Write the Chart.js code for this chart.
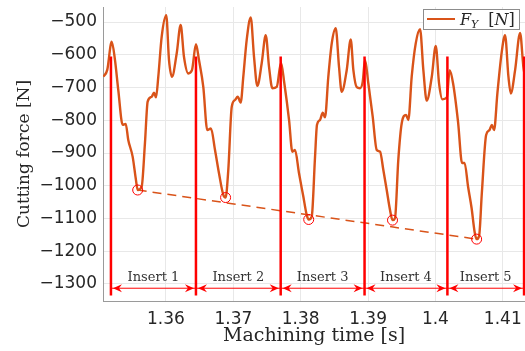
<!DOCTYPE html>
<html>
<head>
<meta charset="utf-8">
<script src="https://cdn.jsdelivr.net/npm/chart.js@4.4.1/dist/chart.umd.min.js"></script>
<style>
  html, body { margin: 0; padding: 0; background: #fff; }
  #chart { display: block; }
</style>
</head>
<body>
<canvas id="chart" width="525" height="351"></canvas>
<script>
// Cutting force F_Y over machining time
const timeS = [
  1.35069, 1.35128, 1.35194, 1.35243, 1.35292, 1.35357, 1.35402, 1.35440, 1.35505, 1.35554,
  1.35580, 1.35639, 1.35688, 1.35728, 1.35788, 1.35822, 1.35852, 1.35886, 1.35936, 1.36004,
  1.36045, 1.36089, 1.36159, 1.36218, 1.36267, 1.36331, 1.36386, 1.36445, 1.36490, 1.36554,
  1.36613, 1.36668, 1.36728, 1.36787, 1.36851, 1.36885, 1.36925, 1.36976, 1.37025, 1.37065,
  1.37109, 1.37148, 1.37198, 1.37258, 1.37307, 1.37356, 1.37421, 1.37481, 1.37530, 1.37579,
  1.37644, 1.37708, 1.37757, 1.37827, 1.37876, 1.37916, 1.37975, 1.38039, 1.38089, 1.38119,
  1.38164, 1.38213, 1.38242, 1.38287, 1.38327, 1.38361, 1.38410, 1.38461, 1.38520, 1.38569,
  1.38609, 1.38683, 1.38743, 1.38782, 1.38832, 1.38881, 1.38921, 1.38955, 1.39004, 1.39069,
  1.39129, 1.39178, 1.39227, 1.39277, 1.39326, 1.39363, 1.39400, 1.39449, 1.39500, 1.39564,
  1.39598, 1.39648, 1.39708, 1.39772, 1.39821, 1.39871, 1.39946, 1.40005, 1.40054, 1.40104,
  1.40169, 1.40212, 1.40262, 1.40336, 1.40396, 1.40433, 1.40485, 1.40537, 1.40582, 1.40612,
  1.40649, 1.40689, 1.40753, 1.40802, 1.40837, 1.40871, 1.40920, 1.40985, 1.41034, 1.41084,
  1.41119, 1.41183, 1.41257, 1.41306, 1.41331
];
const forceN = [
  -667, -646, -560, -616, -708, -814, -811, -860, -911, -982,
  -1013, -1003, -869, -743, -728, -716, -730, -667, -545, -479,
  -616, -667, -596, -509, -606, -657, -647, -568, -616, -698,
  -830, -825, -891, -962, -1028, -1036, -952, -759, -738, -728,
  -746, -667, -555, -486, -606, -695, -626, -540, -637, -702,
  -698, -624, -687, -799, -896, -891, -962, -1033, -1089, -1103,
  -1094, -911, -814, -799, -777, -791, -667, -565, -519, -637,
  -713, -647, -553, -647, -699, -702, -682, -616, -687, -789,
  -891, -896, -952, -1013, -1074, -1105, -1099, -921, -809, -784,
  -799, -667, -565, -522, -647, -740, -667, -573, -687, -736,
  -730, -647, -687, -805, -931, -930, -1003, -1068, -1141, -1163,
  -1153, -1023, -845, -830, -814, -830, -718, -591, -540, -667,
  -718, -647, -533, -637, -668
];

// minimum of each insert pass and the trend through them
const minTime = [1.35580, 1.36885, 1.38119, 1.39363, 1.40612];
const minForce = [-1013, -1036, -1103, -1105, -1163];
const trendTime = [1.3558, 1.4061];
const trendForce = [-1013, -1163];

// insert boundaries and labels
const boundaryTime = [1.35183, 1.36445, 1.37703, 1.38948, 1.40178, 1.41316];
const boundaryForce = [-605, -1335];
const insertLabels = ['Insert 1', 'Insert 2', 'Insert 3', 'Insert 4', 'Insert 5'];
const arrowForce = -1313;
const labelForce = -1282;

// axes
const xTicks = [1.36, 1.37, 1.38, 1.39, 1.40, 1.41];
const yTicks = [-1300, -1200, -1100, -1000, -900, -800, -700, -600, -500];
const xRange = [1.35065, 1.4133];
const yRange = [-1352, -454];

const ORANGE = '#d95319';
const RED = '#ff0000';
const SERIF = '"DejaVu Serif", serif';
const SANS = '"DejaVu Sans", sans-serif';

const datasets = [];

datasets.push({
  label: 'F_Y [N]',
  data: timeS.map((t, i) => ({ x: t, y: forceN[i] })),
  showLine: true,
  borderColor: ORANGE,
  borderWidth: 2.4,
  pointRadius: 0,
  cubicInterpolationMode: 'monotone',
  order: 3
});

datasets.push({
  label: 'trend',
  data: trendTime.map((t, i) => ({ x: t, y: trendForce[i] })),
  showLine: true,
  borderColor: ORANGE,
  borderWidth: 1.5,
  borderDash: [9, 6],
  pointRadius: 0,
  order: 4
});

datasets.push({
  label: 'minima',
  data: minTime.map((t, i) => ({ x: t, y: minForce[i] })),
  showLine: false,
  pointRadius: 5,
  pointBorderColor: RED,
  pointBackgroundColor: 'rgba(0,0,0,0)',
  pointBorderWidth: 1,
  order: 2
});

boundaryTime.forEach(t => {
  datasets.push({
    label: 'boundary',
    data: boundaryForce.map(f => ({ x: t, y: f })),
    showLine: true,
    borderColor: RED,
    borderWidth: 2.5,
    pointRadius: 0,
    order: 1
  });
});

insertLabels.forEach((name, i) => {
  datasets.push({
    label: name,
    isArrow: true,
    data: [
      { x: boundaryTime[i], y: arrowForce },
      { x: boundaryTime[i + 1], y: arrowForce }
    ],
    showLine: true,
    borderColor: RED,
    borderWidth: 1,
    pointRadius: 0,
    order: 1
  });
});

// arrow heads at both ends of each insert span
const arrowHeads = {
  id: 'arrowHeads',
  afterDatasetsDraw(chart) {
    const ctx = chart.ctx;
    ctx.save();
    ctx.fillStyle = RED;
    chart.data.datasets.forEach((ds, i) => {
      if (!ds.isArrow) return;
      const pts = chart.getDatasetMeta(i).data;
      const a = pts[0], b = pts[1];
      drawHead(ctx, a.x + 2, a.y, -1);
      drawHead(ctx, b.x - 2, b.y, 1);
    });
    ctx.restore();
  }
};

function drawHead(ctx, tx, ty, dir) {
  ctx.beginPath();
  ctx.moveTo(tx, ty);
  ctx.lineTo(tx - dir * 9, ty - 4);
  ctx.lineTo(tx - dir * 6, ty);
  ctx.lineTo(tx - dir * 9, ty + 4);
  ctx.closePath();
  ctx.fill();
}

// insert names centred over each span
const insertText = {
  id: 'insertText',
  afterDatasetsDraw(chart) {
    const { ctx, scales } = chart;
    ctx.save();
    ctx.font = '13px ' + SERIF;
    ctx.fillStyle = '#333';
    ctx.textAlign = 'center';
    ctx.textBaseline = 'middle';
    const y = scales.y.getPixelForValue(labelForce);
    insertLabels.forEach((name, i) => {
      const mid = (boundaryTime[i] + boundaryTime[i + 1]) / 2;
      ctx.fillText(name, scales.x.getPixelForValue(mid), y);
    });
    ctx.restore();
  }
};

// boxed legend with subscript label
const legendBox = {
  id: 'legendBox',
  afterDraw(chart) {
    const { ctx, chartArea } = chart;
    const w = 96, h = 20;
    const x = chartArea.right - w - 6;
    const y = chartArea.top + 2;
    ctx.save();
    ctx.fillStyle = '#fff';
    ctx.fillRect(x, y, w, h);
    ctx.strokeStyle = '#8c8c8c';
    ctx.lineWidth = 1;
    ctx.strokeRect(x + 0.5, y + 0.5, w, h);

    ctx.strokeStyle = ORANGE;
    ctx.lineWidth = 2;
    ctx.beginPath();
    ctx.moveTo(x + 4, y + h / 2);
    ctx.lineTo(x + 32, y + h / 2);
    ctx.stroke();

    ctx.fillStyle = '#262626';
    ctx.textBaseline = 'alphabetic';
    const base = y + 16;
    let cx = x + 37;
    ctx.font = 'italic 16px ' + SERIF;
    ctx.fillText('F', cx, base);
    cx += ctx.measureText('F').width;
    ctx.font = 'italic 11px ' + SERIF;
    ctx.fillText('Y', cx, base + 3);
    cx += ctx.measureText('Y').width + 10;
    ctx.font = '16px ' + SERIF;
    ctx.fillText('[', cx, base);
    cx += ctx.measureText('[').width;
    ctx.font = 'italic 16px ' + SERIF;
    ctx.fillText('N', cx, base);
    cx += ctx.measureText('N').width;
    ctx.font = '16px ' + SERIF;
    ctx.fillText(']', cx, base);
    ctx.restore();
  }
};

new Chart(document.getElementById('chart'), {
  type: 'scatter',
  data: { datasets },
  options: {
    responsive: false,
    animation: false,
    layout: {
      autoPadding: false,
      padding: { top: 7, right: 0, left: 0, bottom: 0 }
    },
    plugins: {
      legend: { display: false },
      tooltip: { enabled: false }
    },
    scales: {
      x: {
        type: 'linear',
        min: xRange[0],
        max: xRange[1],
        afterBuildTicks: scale => { scale.ticks = xTicks.map(v => ({ value: v })); },
        afterFit: scale => {
          scale.height = 50;
          scale.paddingLeft = 0;
          scale.paddingRight = 0;
        },
        ticks: {
          font: { family: SANS, size: 17 },
          color: '#262626',
          padding: 8,
          maxRotation: 0,
          callback: v => String(Math.round(v * 100) / 100)
        },
        grid: { color: '#e8e8e8', drawTicks: false },
        border: { color: '#9a9a9a' },
        title: {
          display: true,
          text: 'Machining time [s]',
          font: { family: SERIF, size: 19 },
          color: '#262626',
          padding: { top: 0, bottom: 4 }
        }
      },
      y: {
        type: 'linear',
        min: yRange[0],
        max: yRange[1],
        afterBuildTicks: scale => { scale.ticks = yTicks.map(v => ({ value: v })); },
        afterFit: scale => {
          scale.width = 103;
          scale.paddingTop = 0;
          scale.paddingBottom = 0;
        },
        ticks: {
          font: { family: SANS, size: 17 },
          color: '#262626',
          padding: 6,
          callback: v => String(v).replace('-', '\u2212')
        },
        grid: { color: '#e8e8e8', drawTicks: false },
        border: { color: '#9a9a9a' },
        title: {
          display: true,
          text: 'Cutting force [N]',
          font: { family: SERIF, size: 17 },
          color: '#262626',
          padding: { top: 14, bottom: 0 }
        }
      }
    }
  },
  plugins: [arrowHeads, insertText, legendBox]
});
</script>
</body>
</html>
